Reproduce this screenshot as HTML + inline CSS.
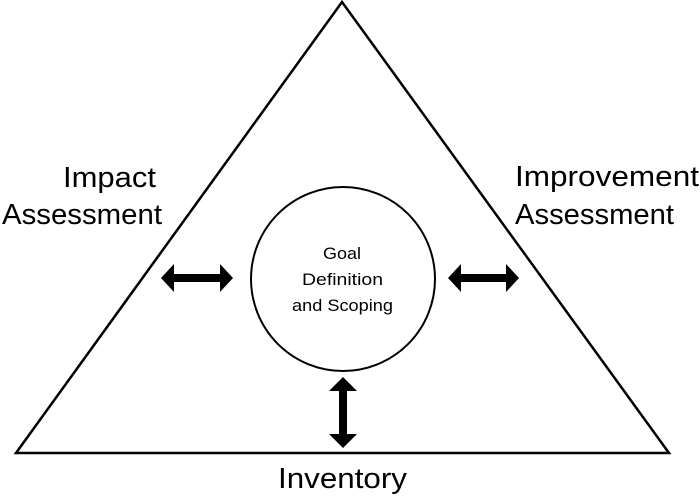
<!DOCTYPE html>
<html><head><style>html,body{margin:0;padding:0;background:#fff}svg{display:block}</style></head>
<body>
<svg width="700" height="496" viewBox="0 0 700 496" xmlns="http://www.w3.org/2000/svg" font-family="Liberation Sans, sans-serif">
<polygon points="342,2 16,453 669,453" fill="none" stroke="#000" stroke-width="2.5"/>
<circle cx="343" cy="279" r="92" fill="none" stroke="#000" stroke-width="2"/>
<polygon points="161,278 174,264 174,274 220,274 220,264 233,278 220,292 220,282 174,282 174,292" fill="#000"/>
<polygon points="448,278 461,264 461,274 506,274 506,264 519,278 506,292 506,282 461,282 461,292" fill="#000"/>
<polygon points="343,377 357,391 347,391 347,434 357,434 343,448 329,434 339,434 339,391 329,391" fill="#000"/>
<g font-size="29" fill="#000">
<text x="63" y="187" textLength="93" lengthAdjust="spacingAndGlyphs">Impact</text>
<text x="2" y="224" textLength="160" lengthAdjust="spacingAndGlyphs">Assessment</text>
<text x="515" y="186" textLength="184" lengthAdjust="spacingAndGlyphs">Improvement</text>
<text x="515" y="224" textLength="159" lengthAdjust="spacingAndGlyphs">Assessment</text>
<text x="278" y="488" textLength="129" lengthAdjust="spacingAndGlyphs">Inventory</text>
</g>
<g font-size="17" fill="#000">
<text x="323" y="259" textLength="38" lengthAdjust="spacingAndGlyphs">Goal</text>
<text x="302" y="285" textLength="81" lengthAdjust="spacingAndGlyphs">Definition</text>
<text x="292" y="311" textLength="101" lengthAdjust="spacingAndGlyphs">and Scoping</text>
</g>
</svg>
</body></html>
